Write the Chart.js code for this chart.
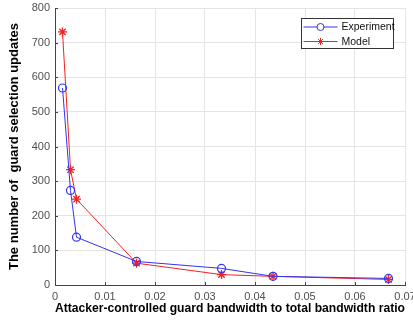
<!DOCTYPE html>
<html>
<head>
<meta charset="utf-8">
<script src="https://cdn.jsdelivr.net/npm/chart.js@4"></script>
<style>
  html, body { margin: 0; padding: 0; background: #fff; }
  #wrap { width: 413px; height: 324px; position: relative; }
</style>
</head>
<body>
<div id="wrap"><canvas id="c" width="413" height="324"></canvas></div>
<script>
// Attacker-controlled guard bandwidth ratio (x) and guard selection updates (y)
const experimentX = [0.0015, 0.0031, 0.0043, 0.0163, 0.0333, 0.0436, 0.0667];
const experimentY = [569, 273, 138, 68, 48, 25, 19];
const modelX = [0.0015, 0.0031, 0.0043, 0.0163, 0.0333, 0.0436, 0.0667];
const modelY = [731, 333, 248, 63, 30, 25, 16];
const seriesNames = ['Experiment', 'Model'];
const xTicks = [0, 0.01, 0.02, 0.03, 0.04, 0.05, 0.06, 0.07];
const yTicks = [0, 100, 200, 300, 400, 500, 600, 700, 800];

const BLUE = '#3333f0';
const RED = '#f52020';
const FONT = '"Liberation Sans", Arial, sans-serif';

const toPoints = (xs, ys) => xs.map((x, i) => ({ x, y: ys[i] }));

// MATLAB-style inward tick marks along the left and bottom axes
const innerTicks = {
  id: 'innerTicks',
  afterDatasetsDraw(chart) {
    const { ctx, chartArea: a, scales } = chart;
    ctx.save();
    ctx.strokeStyle = '#444';
    ctx.lineWidth = 1;
    ctx.beginPath();
    xTicks.forEach(v => {
      const px = Math.round(scales.x.getPixelForValue(v)) + 0.5;
      ctx.moveTo(px, a.bottom);
      ctx.lineTo(px, a.bottom - 3);
    });
    yTicks.forEach(v => {
      const py = Math.round(scales.y.getPixelForValue(v)) + 0.5;
      ctx.moveTo(a.left, py);
      ctx.lineTo(a.left + 3, py);
    });
    ctx.stroke();
    ctx.restore();
  }
};

// Boxed legend in the upper-right corner of the plot
const boxLegend = {
  id: 'boxLegend',
  afterDraw(chart) {
    const { ctx } = chart;
    const x0 = 301.5, y0 = 18.5, w = 92, h = 30;
    ctx.save();
    ctx.fillStyle = '#fff';
    ctx.fillRect(x0, y0, w, h);
    ctx.strokeStyle = '#333';
    ctx.lineWidth = 1;
    ctx.strokeRect(x0, y0, w, h);
    chart.data.datasets.forEach((ds, i) => {
      const cy = y0 + 8.5 + i * 14.5;
      ctx.strokeStyle = ds.borderColor;
      ctx.lineWidth = 1;
      ctx.beginPath();
      ctx.moveTo(x0 + 2, cy);
      ctx.lineTo(x0 + 36, cy);
      ctx.stroke();
      Chart.helpers.drawPoint(ctx, {
        pointStyle: ds.pointStyle, radius: 3.5, rotation: 0, borderWidth: 1
      }, x0 + 19, cy);
      ctx.fillStyle = '#111';
      ctx.font = '10.5px ' + FONT;
      ctx.textBaseline = 'middle';
      ctx.fillText(ds.label, x0 + 40, cy + 0.5);
    });
    ctx.restore();
  }
};

new Chart(document.getElementById('c'), {
  type: 'scatter',
  data: {
    datasets: [
      {
        label: seriesNames[0],
        data: toPoints(experimentX, experimentY),
        showLine: true,
        borderColor: BLUE,
        backgroundColor: 'rgba(0,0,0,0)',
        borderWidth: 1,
        pointStyle: 'circle',
        pointRadius: 4,
        pointBorderColor: BLUE,
        pointBorderWidth: 1.2,
        pointBackgroundColor: 'rgba(0,0,0,0)'
      },
      {
        label: seriesNames[1],
        data: toPoints(modelX, modelY),
        showLine: true,
        borderColor: RED,
        backgroundColor: 'rgba(0,0,0,0)',
        borderWidth: 1,
        pointStyle: 'star',
        pointRadius: 4.5,
        pointBorderColor: RED,
        pointBorderWidth: 1.3,
        pointBackgroundColor: RED
      }
    ]
  },
  options: {
    responsive: false,
    animation: false,
    layout: { padding: { top: 8, right: 8, left: 0, bottom: 0 } },
    plugins: {
      legend: { display: false },
      tooltip: { enabled: false }
    },
    scales: {
      x: {
        type: 'linear',
        min: 0,
        max: 0.07,
        afterBuildTicks: s => { s.ticks = xTicks.map(v => ({ value: v })); },
        afterFit: s => { s.height = 39; s.paddingLeft = 0; s.paddingRight = 0; },
        ticks: {
          color: '#505050',
          font: { family: FONT, size: 11 },
          padding: 5,
          maxRotation: 0,
          autoSkip: false,
          callback: v => String(+v.toFixed(2))
        },
        grid: { color: '#e4e4e4', lineWidth: 1, drawTicks: false, tickLength: 0 },
        border: { display: true, color: '#444', width: 1 },
        title: {
          display: true,
          text: 'Attacker-controlled guard bandwidth to total bandwidth ratio',
          color: '#000',
          font: { family: FONT, size: 13, weight: 'bold' },
          padding: { top: 1, bottom: 8 }
        }
      },
      y: {
        type: 'linear',
        min: 0,
        max: 800,
        afterBuildTicks: s => { s.ticks = yTicks.map(v => ({ value: v })); },
        afterFit: s => { s.width = 55; s.paddingTop = 0; s.paddingBottom = 0; },
        ticks: {
          color: '#505050',
          font: { family: FONT, size: 11 },
          padding: 5,
          autoSkip: false
        },
        grid: { color: '#e4e4e4', lineWidth: 1, drawTicks: false, tickLength: 0 },
        border: { display: true, color: '#444', width: 1 },
        title: {
          display: true,
          text: 'The number of  guard selection updates',
          color: '#000',
          font: { family: FONT, size: 13, weight: 'bold' },
          padding: { top: 7, bottom: 0 }
        }
      }
    }
  },
  plugins: [innerTicks, boxLegend]
});
</script>
</body>
</html>
